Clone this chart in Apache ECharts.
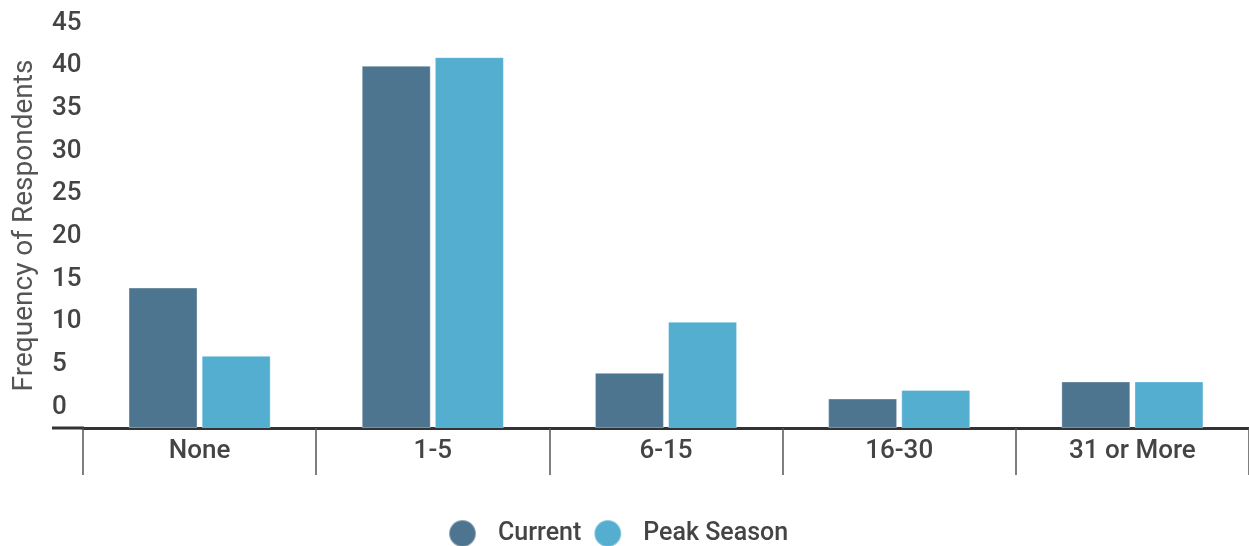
<!DOCTYPE html>
<html>
<head>
<meta charset="utf-8">
<script src="https://cdn.jsdelivr.net/npm/echarts@6/dist/echarts.min.js"></script>
<style>
html,body{margin:0;padding:0;background:#fff;}
#c{width:1249px;height:546px;}
</style>
</head>
<body>
<div id="c"></div>
<script>
var categories = ['None', '1-5', '6-15', '16-30', '31 or More'];
var currentValues = [14, 40, 4, 1, 3];
var peakValues = [6, 41, 10, 2, 3];
var yTickLabels = [0, 5, 10, 15, 20, 25, 30, 35, 40, 45];
var seriesNames = ['Current', 'Peak Season'];
var axisTitle = 'Frequency of Respondents';

var AXIS_MIN = -2.46;
var chart = echarts.init(document.getElementById('c'), null, {renderer: 'canvas'});
var font = 'Roboto, "Noto Sans", sans-serif';
chart.setOption({
  animation: false,
  textStyle: {fontFamily: font},
  grid: {left: 83, right: 0, top: 23, bottom: 118, containLabel: false, outerBoundsMode: 'none'},
  legend: {
    top: 514,
    left: 443,
    icon: 'circle',
    itemWidth: 61,
    itemHeight: 27,
    itemGap: 12,
    textStyle: {fontSize: 25, fontWeight: 500, color: '#444', fontFamily: font},
    data: seriesNames
  },
  xAxis: {
    type: 'category',
    data: categories,
    axisLine: {onZero: false, lineStyle: {color: '#333', width: 3}},
    axisTick: {show: true, length: 47, interval: 0, lineStyle: {color: '#555', width: 1.5}},
    axisLabel: {fontSize: 26, fontWeight: 500, color: '#444', margin: 10, fontFamily: font}
  },
  yAxis: {
    type: 'value',
    min: AXIS_MIN,
    max: 45,
    startValue: AXIS_MIN,
    name: axisTitle,
    nameLocation: 'middle',
    nameGap: 44,
    nameTextStyle: {fontSize: 28, color: '#555', fontFamily: font},
    splitLine: {show: false},
    axisLine: {show: false},
    axisTick: {show: false},
    axisLabel: {
      customValues: yTickLabels,
      align: 'left',
      margin: 31,
      fontSize: 26,
      fontWeight: 500,
      color: '#444',
      fontFamily: font
    }
  },
  graphic: [{
    type: 'line',
    shape: {x1: 52, y1: 428, x2: 84, y2: 428},
    style: {stroke: '#333', lineWidth: 3}
  }],
  series: [
    {name: seriesNames[0], type: 'bar', data: currentValues, barWidth: 69, barGap: '6%',
     itemStyle: {color: '#4e7590', borderColor: 'rgba(255,255,255,0.35)', borderWidth: 1}},
    {name: seriesNames[1], type: 'bar', data: peakValues, barWidth: 69, barGap: '6%',
     itemStyle: {color: '#53aed0', borderColor: 'rgba(255,255,255,0.35)', borderWidth: 1}}
  ]
});
</script>
</body>
</html>
